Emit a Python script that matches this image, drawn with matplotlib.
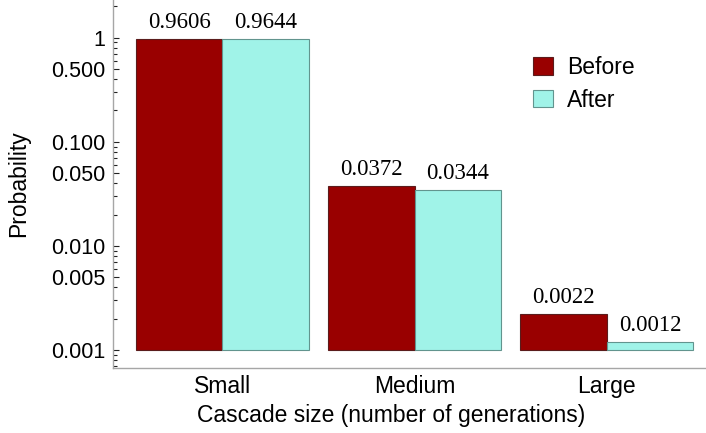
import numpy as np
import matplotlib.pyplot as plt
from matplotlib.ticker import FixedLocator, NullFormatter

categories = ["Small", "Medium", "Large"]
before = [0.9606, 0.0372, 0.0022]
after = [0.9644, 0.0344, 0.0012]
series_names = ["Before", "After"]
y_ticks = [1, 0.5, 0.1, 0.05, 0.01, 0.005, 0.001]
y_tick_labels = ["1", "0.500", "0.100", "0.050", "0.010", "0.005", "0.001"]

BASE = 0.001
WIDTH = 0.45
SANS = "Liberation Sans"
SERIF = "Liberation Serif"
FS = 16.5

plt.rcParams["font.family"] = SANS

fig = plt.figure(figsize=(7.06, 4.33), dpi=100)
ax = fig.add_axes([0.1595, 0.15, 0.8405, 0.85])

x = np.arange(len(categories))
styles = [("#990000", "#5a1c1c"), ("#a0f3e8", "#62948e")]
for i, (vals, (face, edge)) in enumerate(zip([before, after], styles)):
    vals = np.array(vals)
    pos = x + (i - 0.5) * WIDTH
    ax.bar(pos, vals - BASE, bottom=BASE, width=WIDTH, color=face,
           edgecolor=edge, linewidth=0.8, label=series_names[i])
    for px, v in zip(pos, vals):
        ax.annotate(f"{v:.4f}", (px, v), xytext=(0, 8), textcoords="offset points",
                    ha="center", va="baseline", fontsize=FS, family=SERIF)

ax.set_yscale("log")
ax.set_ylim(0.00067, 2.3)
ax.set_xlim(-0.571, 2.516)

# log ticks: labelled majors, unlabelled 2..9 minors
ax.yaxis.set_major_locator(FixedLocator(y_ticks))
ax.set_yticklabels(y_tick_labels)
minors = [m * 10.0 ** e for e in range(-4, 1) for m in range(2, 10)]
minors = [m for m in minors if m not in y_ticks]
ax.yaxis.set_minor_locator(FixedLocator(minors))
ax.yaxis.set_minor_formatter(NullFormatter())
ax.tick_params(axis="y", which="major", direction="in", length=4, width=0.8,
               color="#222222", labelsize=15.5, pad=5.5)
ax.tick_params(axis="y", which="minor", direction="in", length=3, width=0.8,
               color="#222222")

ax.set_xticks(x)
ax.set_xticklabels(categories)
ax.tick_params(axis="x", length=0, labelsize=FS, pad=5)

for side in ("top", "right"):
    ax.spines[side].set_visible(False)
for side in ("left", "bottom"):
    ax.spines[side].set_color("#a6a6a6")
    ax.spines[side].set_linewidth(1.0)

ax.set_ylabel("Probability", fontsize=FS, labelpad=15)
ax.set_xlabel("Cascade size (number of generations)", fontsize=FS)
ax.xaxis.set_label_coords(0.47, -0.098)

ax.legend(loc="upper left", bbox_to_anchor=(533 / 706, 1 - 56 / 433),
          bbox_transform=fig.transFigure, frameon=False, fontsize=FS,
          handlelength=0.87, handleheight=0.79, handletextpad=0.6,
          labelspacing=0.42, borderpad=0, borderaxespad=0)

fig.savefig("out.png", dpi=100)
